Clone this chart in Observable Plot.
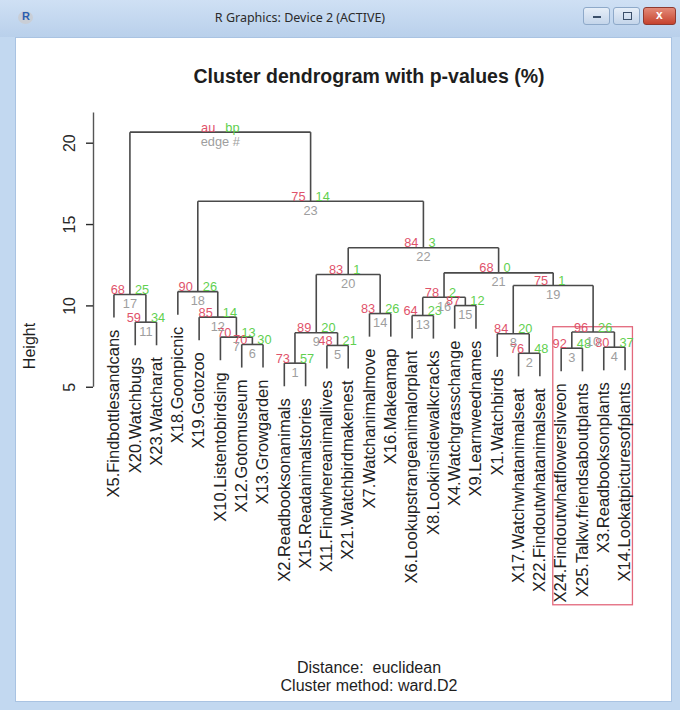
<!DOCTYPE html>
<html><head><meta charset="utf-8">
<script src="https://cdn.jsdelivr.net/npm/d3@7"></script>
<script src="https://cdn.jsdelivr.net/npm/@observablehq/plot@0.6"></script>
<style>
html,body{margin:0;padding:0;background:#fff;}
#win{position:relative;width:680px;height:710px;overflow:hidden;background:#c2d8f0;font-family:"Liberation Sans",Arial,sans-serif;}
#titlebar{position:absolute;left:0;top:0;width:680px;height:37px;background:linear-gradient(#cfe0f4,#b9d0eb);}
#wtitle{position:absolute;left:150px;top:9px;width:300px;text-align:center;font:12.5px "Noto Sans",sans-serif;color:#2b2b2b;}
#ricon{position:absolute;left:18px;top:11px;width:15px;height:13px;border-radius:50%;background:#c9ced6;}
#ricon span{position:absolute;left:4px;top:-1px;font:bold 11px "Liberation Sans",Arial;color:#2a5db0;}
.btn{position:absolute;top:7px;height:18px;border:1px solid #8ea9c9;border-radius:3px;background:linear-gradient(#e6eef8,#c4d5ea);box-sizing:border-box;}
.btn i{position:absolute;font-style:normal;}
#bclose{background:linear-gradient(#e38a78,#c6432e);border-color:#8f3a30;}
#client{position:absolute;left:15px;top:37px;width:657px;height:665px;background:#fff;border:1px solid #a9c3e2;box-sizing:border-box;}
#chart{position:absolute;left:0;top:0;}
.t{position:absolute;text-align:center;color:#1e1e1e;white-space:pre;}
</style>
</head>
<body>
<div id="win">
  <div id="titlebar"></div>
  <div id="ricon"><span>R</span></div>
  <div id="wtitle">R Graphics: Device 2 (ACTIVE)</div>
  <div class="btn" style="left:583px;width:27px;"><i style="left:9px;top:8px;width:8px;height:2px;background:#3a4f6a;"></i></div>
  <div class="btn" style="left:613px;width:27px;"><i style="left:9px;top:4px;width:7px;height:6px;border:1px solid #3a4f6a;"></i></div>
  <div class="btn" id="bclose" style="left:643px;width:33px;"><i style="left:12px;top:0px;font:bold 12px 'Liberation Sans';color:#fff;">x</i></div>
  <div id="client"></div>
  <div id="chart"></div>
  <div class="t" style="left:69px;width:600px;top:65px;font-weight:bold;font-size:19.5px;">Cluster dendrogram with p-values (%)</div>
  <div class="t" style="left:69px;width:600px;top:659px;font-size:16px;line-height:17.5px;">Distance:  euclidean
Cluster method: ward.D2</div>
  <div class="t" style="left:0px;top:337px;width:60px;font-size:16px;transform:rotate(-90deg);">Height</div>
</div>
<script>
// Leaf labels, item i is X(i)
const leafLabels = [
  "X1.Watchbirds","X2.Readbooksonanimals","X3.Readbooksonplants","X4.Watchgrasschange",
  "X5.Findbottlesandcans","X6.Lookupstrangeanimalorplant","X7.Watchanimalmove",
  "X8.Lookinsidewalkcracks","X9.Learnweednames","X10.Listentobirdsing",
  "X11.Findwhereanimallives","X12.Gotomuseum","X13.Growgarden","X14.Lookatpicturesofplants",
  "X15.Readanimalstories","X16.Makeamap","X17.Watchwhatanimalseat","X18.Goonpicnic",
  "X19.Gotozoo","X20.Watchbugs","X21.Watchbirdmakenest","X22.Findoutwhatanimalseat",
  "X23.Watcharat","X24.Findoutwhatflowersliveon","X25.Talkw.friendsaboutplants"
];
// hclust-style merges (negative = leaf, positive = earlier merge = edge #)
const mergeLeft  = [-2,-17,-24,-3,-11,-12,-10,-1, 1, 3,-20,-19,-6,-7,-4,13,-5,-18, 8, 9,16,20,18,17];
const mergeRight = [-15,-22,-25,-14,-21,-13, 6, 2, 5, 4,-23, 7,-8,-16,-9,15,11,12,10,14,19,21,22,23];
const mergeHeight = [6.48,7.09,7.40,7.46,7.57,7.63,8.08,8.29,8.35,8.40,9.00,9.31,9.41,9.53,10.02,10.53,10.70,10.88,11.25,11.93,12.03,13.57,16.43,20.68];
const auValues = [73,76,92,80,48,70,70,84,89,96,59,85,64,83,87,78,68,90,75,83,68,84,75,null];
const bpValues = [57,48,48,37,21,30,13,20,20,26,34,14,23,26,12,2,25,26,1,1,0,3,14,null];
const yTicks = [5,10,15,20];

const n = mergeHeight.length;
const hang = 0.1 * (d3.max(mergeHeight) - d3.min(mergeHeight));
// leaf order from traversal
const order = [];
(function walk(k){ if (k < 0) order.push(-k); else { walk(mergeLeft[k-1]); walk(mergeRight[k-1]); } })(n);
const leafPos = {}; order.forEach((id, i) => leafPos[id] = i + 1);
const nodeX = new Array(n);
const posOf = (c) => c < 0 ? leafPos[-c] : nodeX[c-1];
for (let k = 0; k < n; k++) nodeX[k] = (posOf(mergeLeft[k]) + posOf(mergeRight[k])) / 2;

const segs = [], leaves = [];
for (let k = 0; k < n; k++) {
  const h = mergeHeight[k];
  const cl = mergeLeft[k], cr = mergeRight[k];
  segs.push({x1: posOf(cl), x2: posOf(cr), y1: h, y2: h});
  for (const c of [cl, cr]) {
    const bottom = c < 0 ? h - hang : mergeHeight[c-1];
    segs.push({x1: posOf(c), x2: posOf(c), y1: h, y2: bottom});
    if (c < 0) leaves.push({x: posOf(c), y: h - hang, label: leafLabels[-c-1]});
  }
}
const nodes = d3.range(n).map(k => ({
  x: nodeX[k], y: mergeHeight[k],
  au: k === n-1 ? "au" : String(auValues[k]),
  bp: k === n-1 ? "bp" : String(bpValues[k]),
  edge: k === n-1 ? "edge #" : String(k+1)
}));
// clusters with au >= 95 (pvrect)
const rects = [];
for (let k = 0; k < n-1; k++) if (auValues[k] >= 95) {
  const mem = [];
  (function w(c){ if (c < 0) mem.push(leafPos[-c]); else { w(mergeLeft[c-1]); w(mergeRight[c-1]); } })(k+1);
  rects.push({x1: d3.min(mem) - 0.37, x2: d3.max(mem) + 0.37, y1: -8.4, y2: mergeHeight[k] + 0.29});
}

const AU = "#DF536B", BP = "#61D04F", EDGE = "#9E9E9E";
const chart = Plot.plot({
  width: 680, height: 710,
  marginLeft: 93, marginRight: 35, marginTop: 112.6, marginBottom: 241.9,
  x: {domain: [0.04, 25.96], axis: null},
  y: {domain: [0, 21.85]},
  style: {background: "transparent", fontFamily: "'Liberation Sans', Arial, sans-serif", overflow: "visible"},
  marks: [
    Plot.ruleX([0.04], {y1: 5, y2: 21.85, stroke: "#555", strokeWidth: 1.4}),
    Plot.axisY({ticks: yTicks, tickSize: 7, tickPadding: 17, tickRotate: -90, textAnchor: "middle", lineAnchor: "middle", fontSize: 16, label: null, color: "#2a2a2a", strokeWidth: 1.4}),
    Plot.rect(rects, {x1: "x1", x2: "x2", y1: "y1", y2: "y2", fill: "none", stroke: "#E3687C", strokeWidth: 1.3}),
    Plot.link(segs, {x1: "x1", x2: "x2", y1: "y1", y2: "y2", stroke: "#4a4a4a", strokeWidth: 1.6}),
    Plot.text(leaves, {x: "x", y: "y", text: "label", rotate: -90, textAnchor: "end", dy: 12, fontSize: 16.5, fill: "#222"}),
    Plot.text(nodes, {x: "x", y: "y", text: "au", textAnchor: "end", dx: -5, dy: -4.5, fontSize: 12.8, fill: AU}),
    Plot.text(nodes, {x: "x", y: "y", text: "bp", textAnchor: "start", dx: 5, dy: -4.5, fontSize: 12.8, fill: BP}),
    Plot.text(nodes, {x: "x", y: "y", text: "edge", textAnchor: "middle", dy: 9.5, fontSize: 12.8, fill: EDGE})
  ]
});
document.getElementById("chart").appendChild(chart);
</script>
</body></html>
